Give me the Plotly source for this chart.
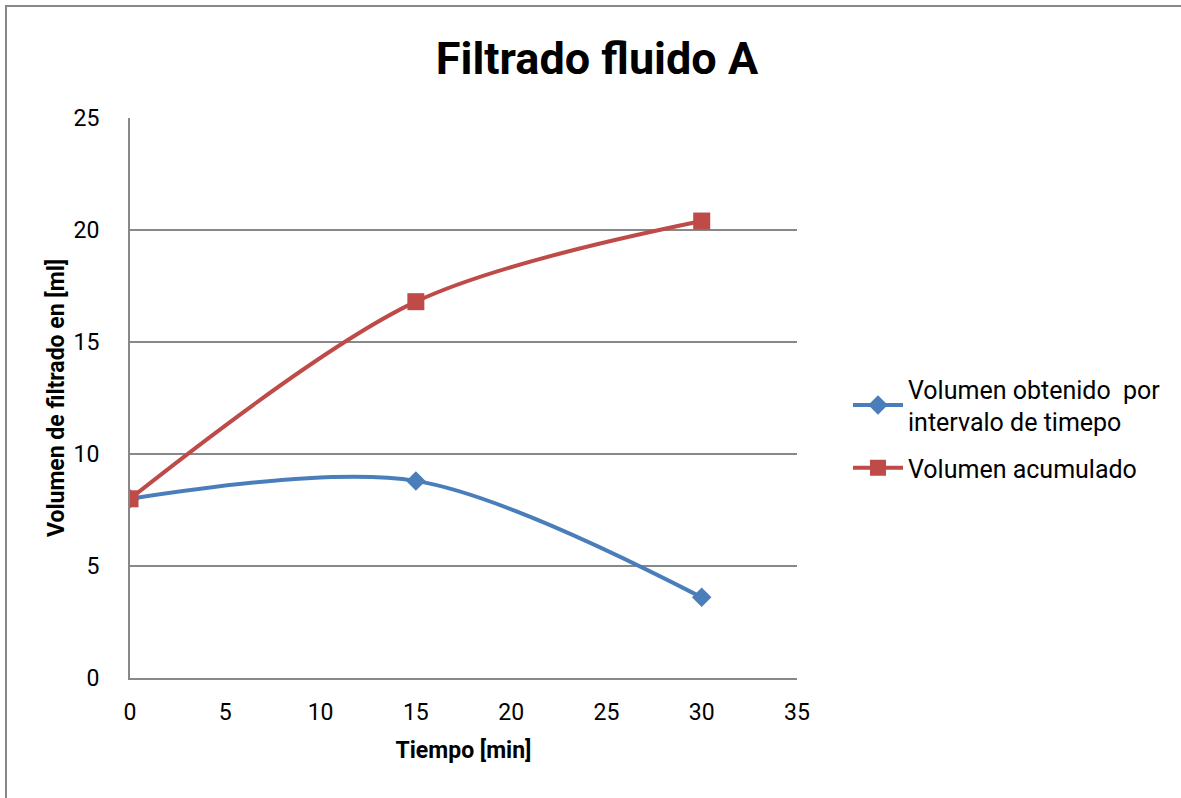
import plotly.graph_objects as go

# Filtration data, fluid A
tiempo = [0, 15, 30]
vol_intervalo = [8, 8.8, 3.6]
vol_acumulado = [8, 16.8, 20.4]

serie_intervalo = "Volumen obtenido  por<br>intervalo de timepo"
serie_acumulado = "Volumen acumulado"

W, H = 1181, 798
L, R, T, B = 130, 384, 118, 120
pw, ph = W - L - R, H - T - B

fig = go.Figure()
fig.add_trace(go.Scatter(
    x=tiempo, y=vol_intervalo, name=serie_intervalo, mode="lines+markers",
    legendgroup="a",
    line=dict(color="#4a7ebb", width=4, shape="spline", smoothing=0.9),
    marker=dict(symbol="diamond", size=15, color="#4a7ebb"),
))
fig.add_trace(go.Scatter(
    x=tiempo, y=vol_acumulado, name=serie_acumulado, mode="lines+markers",
    legendgroup="b",
    line=dict(color="#be4b48", width=4, shape="spline", smoothing=0.9),
    marker=dict(symbol="square", size=17, color="#be4b48"),
))

# outer chart frame
fig.add_shape(type="rect", xref="paper", yref="paper",
              x0=(6 - L) / pw, x1=(W + 10 - L) / pw,
              y0=-(B + 10) / ph, y1=(H - B - 6) / ph,
              line=dict(color="#888888", width=2), layer="below")

fig.update_layout(
    width=W, height=H,
    margin=dict(l=L, r=R, t=T, b=B),
    paper_bgcolor="white", plot_bgcolor="white",
    font=dict(family="Roboto", color="black"),
    title=dict(text="<b>Filtrado fluido A</b>", x=597 / W, xanchor="center",
               y=1 - 58 / H, yanchor="middle",
               font=dict(size=45, family="Roboto")),
    xaxis=dict(range=[0, 35], tickvals=[0, 5, 10, 15, 20, 25, 30, 35],
               showgrid=False, zeroline=False, showline=True,
               linecolor="#888888", linewidth=2, ticks="",
               tickfont=dict(size=23), ticklabelstandoff=12,
               title=dict(text="<b>Tiempo [min]</b>", font=dict(size=23), standoff=17)),
    yaxis=dict(range=[0, 25], tickvals=[0, 5, 10, 15, 20, 25],
               showgrid=True, gridcolor="#888888", gridwidth=1.5, zeroline=False,
               showline=True, linecolor="#888888", linewidth=2, ticks="",
               tickfont=dict(size=23), ticklabelstandoff=24,
               title=dict(text="<b>Volumen de filtrado en [ml]</b>", font=dict(size=23), standoff=2)),
    legend=dict(x=(848 - L) / pw, y=(H - B - 366) / ph, xanchor="left", yanchor="top",
                font=dict(size=25), bgcolor="rgba(0,0,0,0)",
                traceorder="grouped", tracegroupgap=11, itemwidth=50),
    showlegend=True,
)

fig.write_html("out.html")
